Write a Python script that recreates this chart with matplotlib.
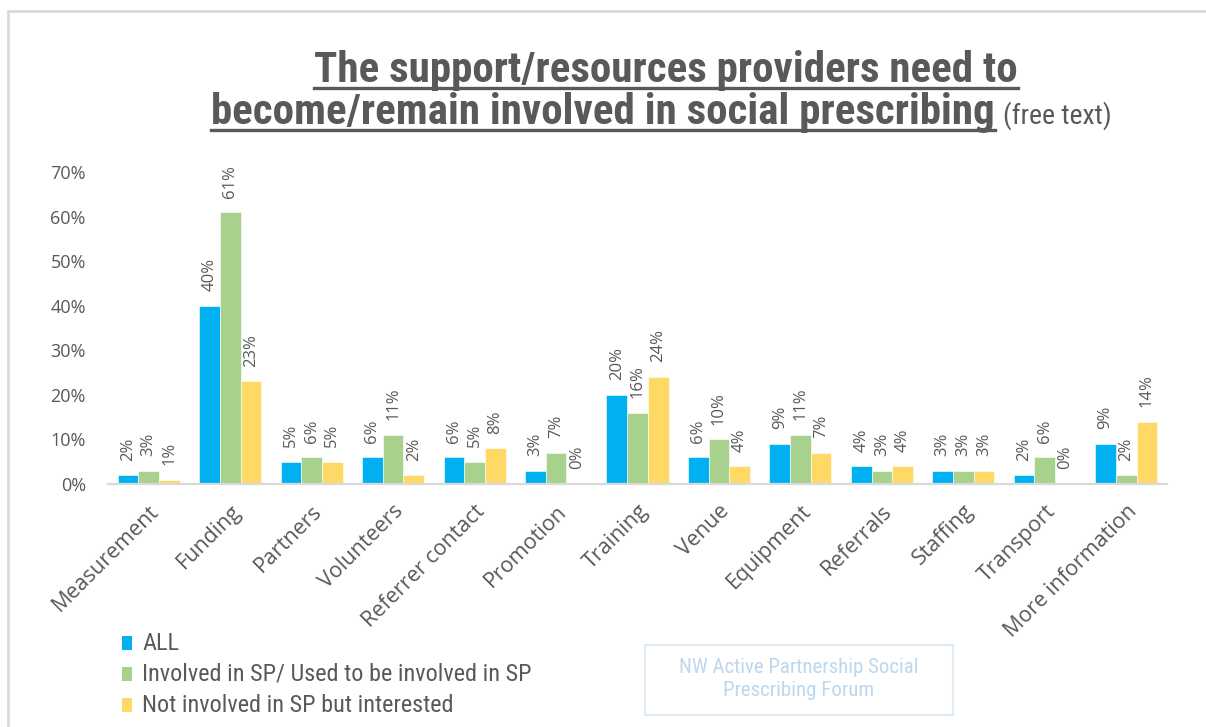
import numpy as np
import matplotlib
matplotlib.use('Agg')
import matplotlib.pyplot as plt
from matplotlib import font_manager
from matplotlib.patches import Rectangle
from matplotlib.lines import Line2D
import matplotlib.transforms as mtransforms

categories = ['Measurement', 'Funding', 'Partners', 'Volunteers', 'Referrer contact',
              'Promotion', 'Training', 'Venue', 'Equipment', 'Referrals', 'Staffing',
              'Transport', 'More information']
all_pct = [2, 40, 5, 6, 6, 3, 20, 6, 9, 4, 3, 2, 9]
involved_pct = [3, 61, 6, 11, 5, 7, 16, 10, 11, 3, 3, 6, 2]
interested_pct = [1, 23, 5, 2, 8, 0, 24, 4, 7, 4, 3, 0, 14]
series_names = ['ALL', 'Involved in SP/ Used to be involved in SP',
                'Not involved in SP but interested']
y_ticks = [0, 10, 20, 30, 40, 50, 60, 70]

colors = ['#00b0f0', '#a9d18e', '#ffd966']
grey = '#595959'


def pick_font(names):
    have = {f.name for f in font_manager.fontManager.ttflist}
    for n in names:
        if n in have:
            return n
    return 'DejaVu Sans'


body_font = pick_font(['Open Sans', 'Noto Sans', 'DejaVu Sans'])
narrow_font = pick_font(['Liberation Sans Narrow', 'Roboto Condensed', 'Open Sans', 'DejaVu Sans'])
plt.rcParams['font.family'] = body_font

W, H = 1206, 727
fig = plt.figure(figsize=(W / 100, H / 100), dpi=100)

# outer chart frame
fig.add_artist(Rectangle((8 / W, -0.01), 1.0, 1 - 11 / H + 0.01, transform=fig.transFigure,
                         fill=False, edgecolor='#d9d9d9', lw=2))

ax = fig.add_axes([108 / W, 1 - 484 / H, (1167 - 108) / W, (484 - 172) / H])

x = np.arange(len(categories))
bw = 0.254
for i, vals in enumerate([all_pct, involved_pct, interested_pct]):
    pos = x + (i - 1) * bw
    ax.bar(pos, vals, width=bw, color=colors[i], edgecolor='white', linewidth=0.4)
    for px, v in zip(pos, vals):
        ax.annotate('%d%%' % v, (px, v), xytext=(0, 10.5), textcoords='offset points',
                    rotation=90, ha='center', va='bottom', fontsize=12, color=grey)

ax.set_xlim(-0.5, len(categories) - 0.5)
ax.set_ylim(0, 70)
ax.set_yticks(y_ticks)
ax.set_yticklabels(['%d%%' % t for t in y_ticks], fontsize=13, color=grey)
ax.set_xticks(x)
ax.set_xticklabels(categories, rotation=45, ha='right', va='top', rotation_mode='anchor',
                   fontsize=15.5, color=grey)
offset = mtransforms.ScaledTranslation(10 / 100, 0, fig.dpi_scale_trans)
for lbl in ax.get_xticklabels():
    lbl.set_transform(lbl.get_transform() + offset)
ax.tick_params(axis='both', length=0)
ax.tick_params(axis='y', pad=16)
ax.tick_params(axis='x', pad=12)
for s in ['top', 'right', 'left']:
    ax.spines[s].set_visible(False)
ax.spines['bottom'].set_color('#d9d9d9')
ax.spines['bottom'].set_linewidth(1.6)

# title with underline
t1 = fig.text(666 / W, 1 - 82 / H, 'The support/resources providers need to',
              ha='center', va='baseline', fontsize=31, fontweight='bold', color=grey,
              family=narrow_font)
t2 = fig.text(603 / W, 1 - 124 / H, 'become/remain involved in social prescribing',
              ha='center', va='baseline', fontsize=31, fontweight='bold', color=grey,
              family=narrow_font)
fig.canvas.draw()
r = fig.canvas.get_renderer()
for t, base in [(t1, 82), (t2, 124)]:
    bb = t.get_window_extent(r)
    yl = 1 - (base + 6) / H
    fig.add_artist(Line2D([bb.x0 / W, bb.x1 / W], [yl, yl], transform=fig.transFigure,
                          color=grey, lw=2.4))
bb2 = t2.get_window_extent(r)
fig.text((bb2.x1 + 8) / W, 1 - 124 / H, '(free text)', ha='left', va='baseline',
         fontsize=20, color=grey, family=narrow_font)

# legend
for i, name in enumerate(series_names):
    yc = 643 + 31 * i
    fig.add_artist(Rectangle((122 / W, 1 - (yc + 7) / H), 10 / W, 14 / H,
                             transform=fig.transFigure, color=colors[i], lw=0))
    fig.text(142 / W, 1 - yc / H, name, ha='left', va='center', fontsize=17.5,
             color=grey, family=narrow_font)

# forum box
fig.add_artist(Rectangle((645 / W, 1 - 715 / H), 308 / W, 70 / H, transform=fig.transFigure,
                         fill=False, edgecolor='#deebf7', lw=1.5))
fig.text(799 / W, 1 - 679 / H, 'NW Active Partnership Social\nPrescribing Forum',
         ha='center', va='center', fontsize=15, color='#bdd7ee', linespacing=1.25,
         family=narrow_font)

fig.savefig('out.png', dpi=100)
